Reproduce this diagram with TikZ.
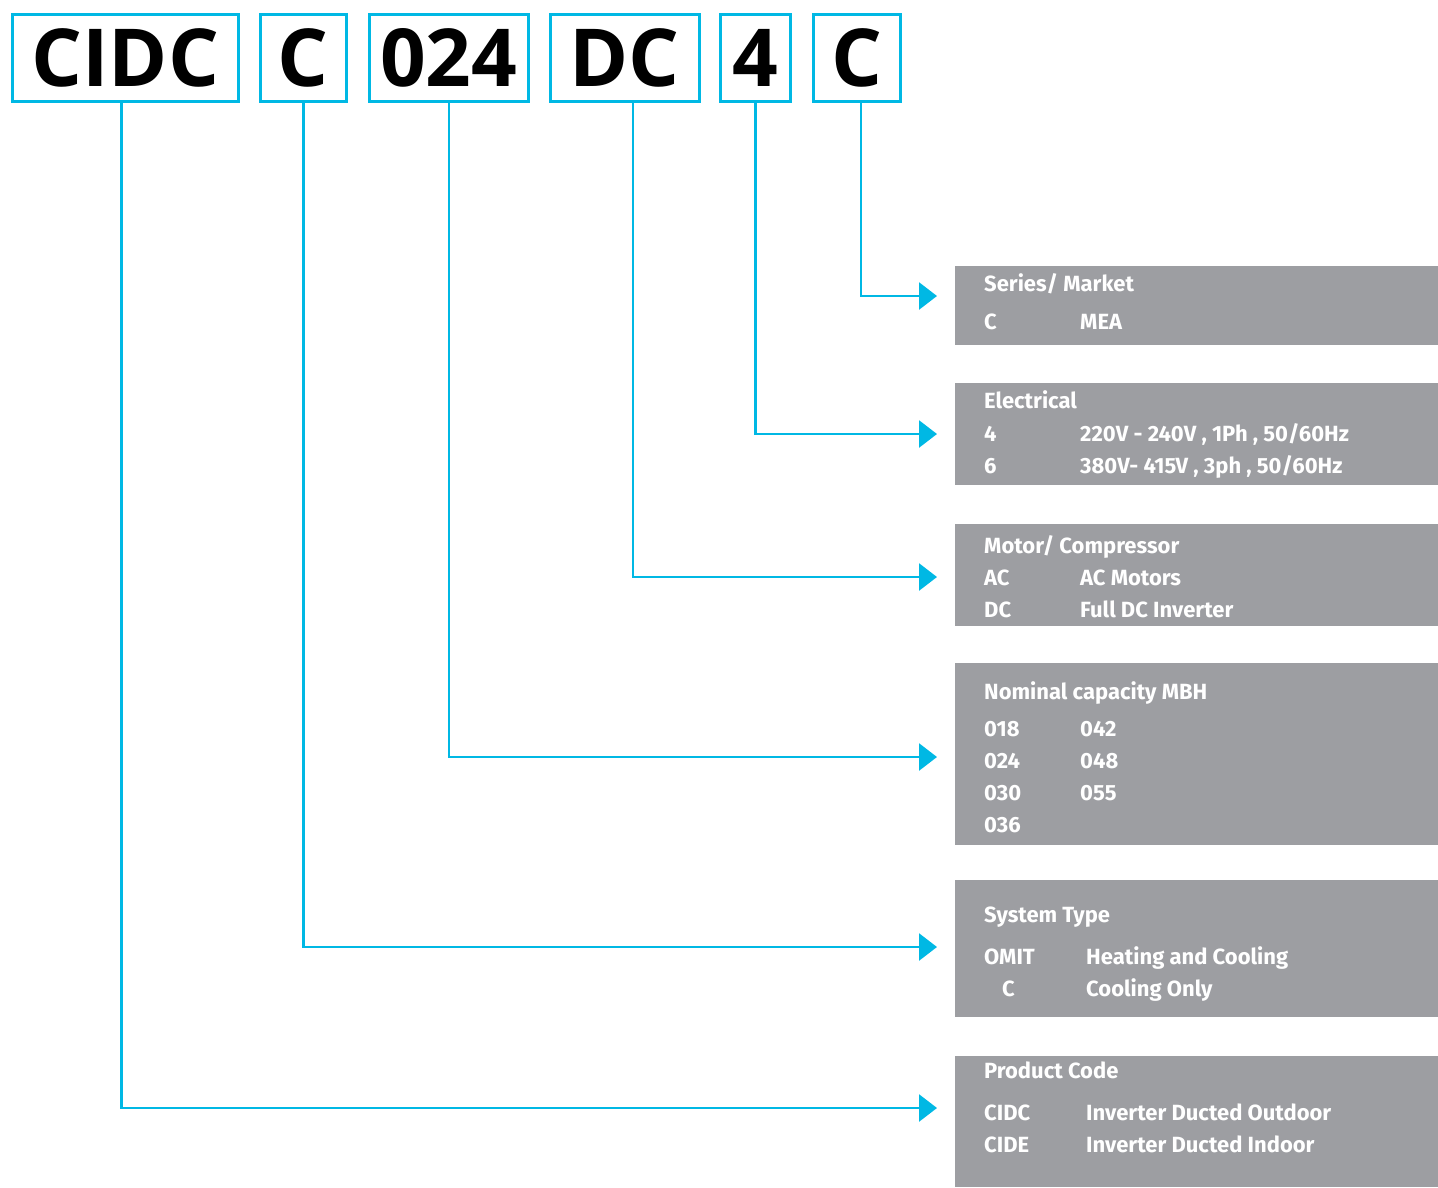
\documentclass[tikz,border=0pt]{standalone}
\usepackage{fontspec}
\setmainfont{Fira Sans}
\newfontfamily\codefont{Open Sans}
\usetikzlibrary{arrows.meta}
\definecolor{codecyan}{HTML}{00B8E4}
\definecolor{panelgray}{HTML}{9D9EA2}

\begin{document}
\begin{tikzpicture}[x=1pt,y=-1pt,>={Triangle[length=18pt,width=27pt]},
    codebox/.style={draw=codecyan,line width=2.6pt,inner sep=0pt,anchor=north west,
      font=\codefont\bfseries\fontsize{80}{80}\selectfont},
    panel/.style={fill=panelgray,inner sep=0pt,anchor=north west,minimum width=483pt},
    ptext/.style={anchor=base west,inner sep=0pt,text=white,
      font=\bfseries\fontsize{22}{22}\selectfont},
    lead/.style={draw=codecyan,line width=2.6pt,->}]
    \useasboundingbox (0,0) rectangle (1438,1187);
    % Model code boxes along the top
    \node[codebox,minimum width=226pt,minimum height=87pt] (cidc) at (11,13) {CIDC};
    \node[codebox,minimum width=86pt,minimum height=87pt] (sys) at (259,13) {C};
    \node[codebox,minimum width=159pt,minimum height=87pt] (cap) at (368,13) {024};
    \node[codebox,minimum width=149pt,minimum height=87pt] (motor) at (549,13) {DC};
    \node[codebox,minimum width=70pt,minimum height=87pt] (elec) at (719,13) {4};
    \node[codebox,minimum width=87pt,minimum height=87pt] (series) at (812,13) {C};
    % Grey legend panels on the right
    \node[panel,minimum height=79pt] (pseries) at (955,266) {};
    \node[panel,minimum height=102pt] (pelec) at (955,383) {};
    \node[panel,minimum height=102pt] (pmotor) at (955,524) {};
    \node[panel,minimum height=182pt] (pcap) at (955,663) {};
    \node[panel,minimum height=137pt] (psys) at (955,880) {};
    \node[panel,minimum height=131pt] (pcode) at (955,1056) {};
    % Arrow ends, just short of each panel
    \coordinate (aseries) at (937,296);
    \coordinate (aelec) at (937,434);
    \coordinate (amotor) at (937,577);
    \coordinate (acap) at (937,757);
    \coordinate (asys) at (937,947);
    \coordinate (acode) at (937,1108);
    % Leaders (drop points a little off centre, as drawn)
    \draw[lead] ([xshift=4pt]series.south) |- (aseries);
    \draw[lead] (elec.south) |- (aelec);
    \draw[lead] ([xshift=8pt]motor.south) |- (amotor);
    \draw[lead] (cap.south) |- (acap);
    \draw[lead] (sys.south) |- (asys);
    \draw[lead] ([xshift=-4pt]cidc.south) |- (acode);
    % Panel texts
    \node[ptext] (tseries) at (984,291) {Series/ Market};
    \node[ptext] (tseries1) at (984,329) {C};
    \node[ptext] (tseries2) at (1080,329) {MEA};
    \node[ptext] (telec) at (984,408) {Electrical};
    \node[ptext] (telec1) at (984,441) {4};
    \node[ptext] (telec2) at (1080,441) {220V - 240V , 1Ph , 50/60Hz};
    \node[ptext] (telec3) at (984,473) {6};
    \node[ptext] (telec4) at (1080,473) {380V- 415V , 3ph , 50/60Hz};
    \node[ptext] (tmotor) at (984,553) {Motor/ Compressor};
    \node[ptext] (tmotor1) at (984,585) {AC};
    \node[ptext] (tmotor2) at (1080,585) {AC Motors};
    \node[ptext] (tmotor3) at (984,617) {DC};
    \node[ptext] (tmotor4) at (1080,617) {Full DC Inverter};
    \node[ptext] (tcap) at (984,699) {Nominal capacity MBH};
    \node[ptext] (tcap1) at (984,736) {018};
    \node[ptext] (tcap2) at (1080,736) {042};
    \node[ptext] (tcap3) at (984,768) {024};
    \node[ptext] (tcap4) at (1080,768) {048};
    \node[ptext] (tcap5) at (984,800) {030};
    \node[ptext] (tcap6) at (1080,800) {055};
    \node[ptext] (tcap7) at (984,832) {036};
    \node[ptext] (tsys) at (984,922) {System Type};
    \node[ptext] (tsys1) at (984,964) {OMIT};
    \node[ptext] (tsys2) at (1086,964) {Heating and Cooling};
    \node[ptext] (tsys3) at (1002,996) {C};
    \node[ptext] (tsys4) at (1086,996) {Cooling Only};
    \node[ptext] (tcode) at (984,1078) {Product Code};
    \node[ptext] (tcode1) at (984,1120) {CIDC};
    \node[ptext] (tcode2) at (1086,1120) {Inverter Ducted Outdoor};
    \node[ptext] (tcode3) at (984,1152) {CIDE};
    \node[ptext] (tcode4) at (1086,1152) {Inverter Ducted Indoor};
\end{tikzpicture}
\end{document}
